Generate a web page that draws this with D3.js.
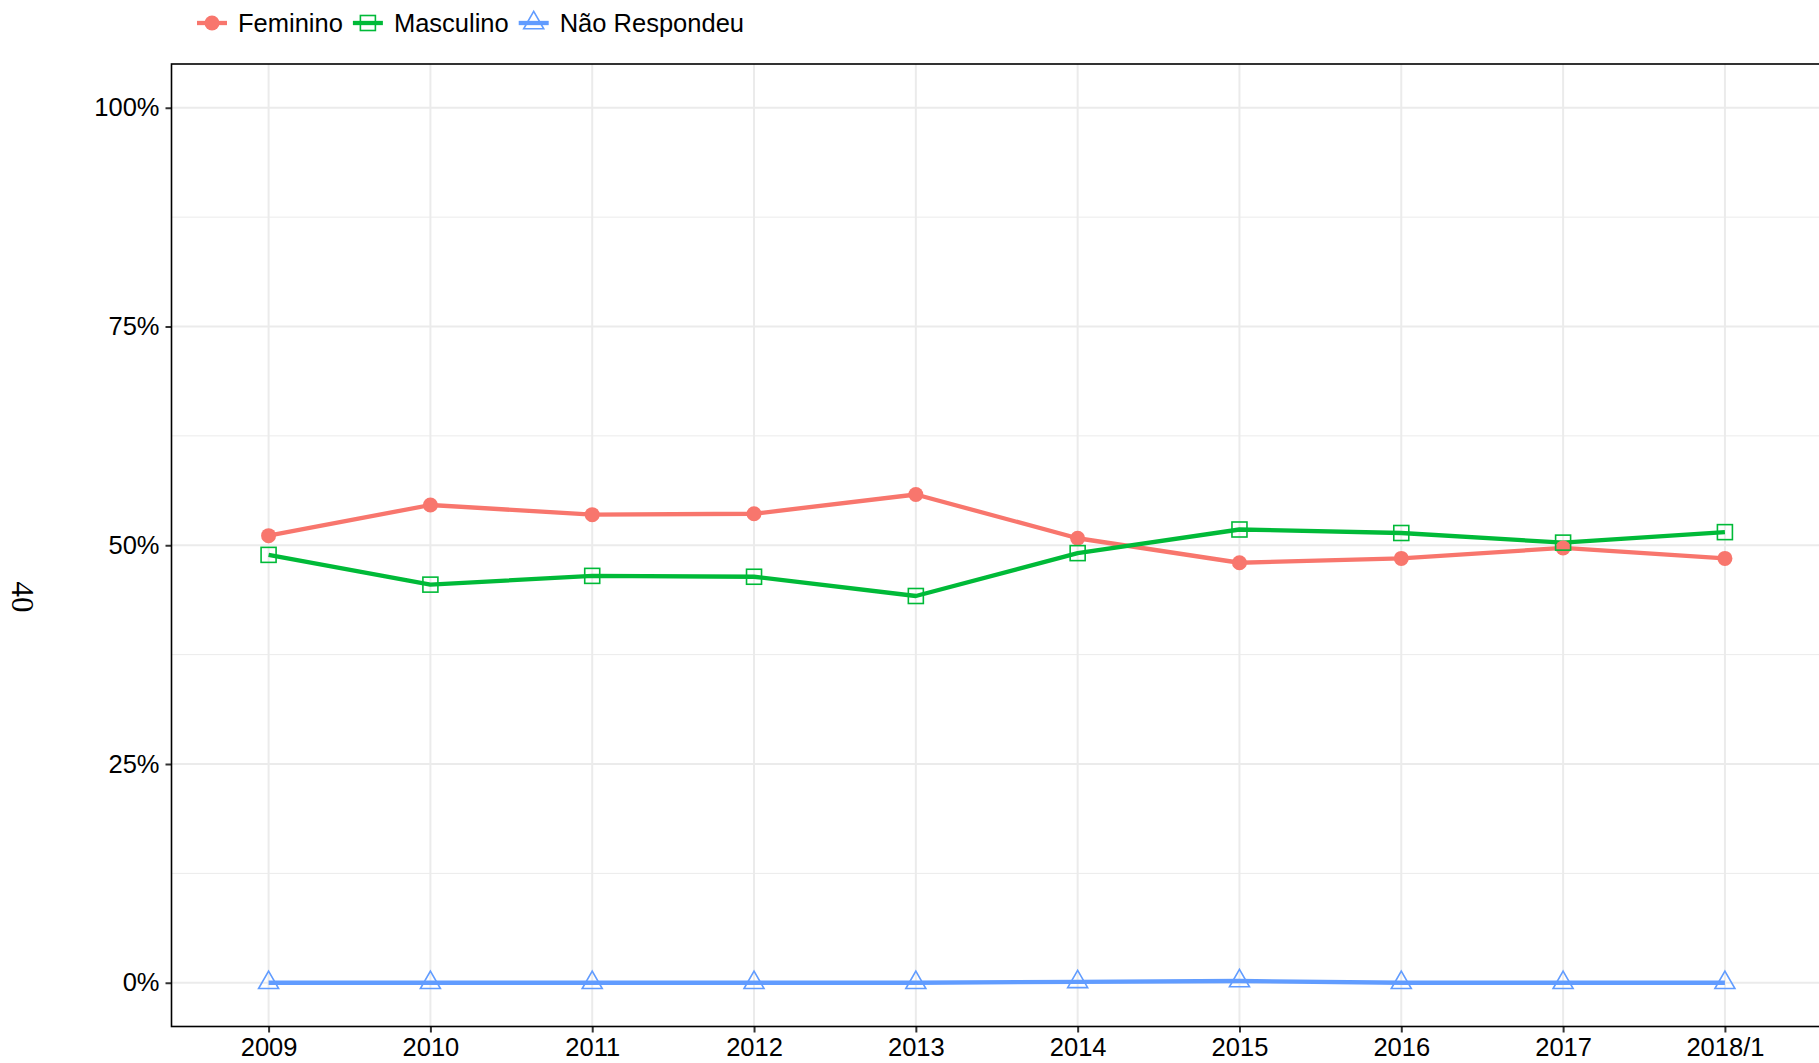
<!DOCTYPE html>
<html>
<head>
<meta charset="utf-8">
<script src="https://cdn.jsdelivr.net/npm/d3@7"></script>
<style>
  body { margin: 0; background: #fff; }
  svg { display: block; }
  .serif { font-family: "Liberation Serif", "DejaVu Serif", serif; }
</style>
</head>
<body>
<div id="canvas"></div>
<script>
// data (shares, 0..1)
const anos = ["2009", "2010", "2011", "2012", "2013", "2014", "2015", "2016", "2017", "2018/1"];
const feminino = [0.511, 0.546, 0.535, 0.536, 0.558, 0.508, 0.480, 0.485, 0.497, 0.485];
const masculino = [0.489, 0.455, 0.465, 0.464, 0.442, 0.491, 0.518, 0.514, 0.503, 0.515];
const naoRespondeu = [0.000, 0.000, 0.000, 0.000, 0.000, 0.001, 0.002, 0.000, 0.000, 0.000];
const seriesNames = ["Feminino", "Masculino", "Não Respondeu"];
const yTicks = [0, 0.25, 0.5, 0.75, 1];
const yMinor = [0.125, 0.375, 0.625, 0.875];

const colors = ["#F8766D", "#00BA38", "#619CFF"];
const series = [feminino, masculino, naoRespondeu].map((vals, i) => ({
    name: seriesNames[i], color: colors[i], shape: i,
    values: vals.map((v, j) => ({ ano: anos[j], v: v }))
}));

const W = 1819, H = 1063;
const panel = { left: 171.5, right: 1822, top: 64, bottom: 1026.5 };
const fontSans = "'Liberation Sans', Arial, sans-serif";

const svg = d3.select("#canvas").append("svg")
    .attr("width", W).attr("height", H);

const x = d3.scalePoint()
    .domain(anos)
    .range([panel.left, panel.right])
    .padding(0.6);

const y = d3.scaleLinear()
    .domain([-0.05, 1.05])
    .range([panel.bottom, panel.top]);

// grid
const grid = svg.append("g");
grid.selectAll(".minor").data(yMinor).join("line")
    .attr("x1", panel.left).attr("x2", panel.right)
    .attr("y1", d => y(d)).attr("y2", d => y(d))
    .attr("stroke", "#ebebeb").attr("stroke-width", 1);
grid.selectAll(".majorY").data(yTicks).join("line")
    .attr("x1", panel.left).attr("x2", panel.right)
    .attr("y1", d => y(d)).attr("y2", d => y(d))
    .attr("stroke", "#ebebeb").attr("stroke-width", 2);
grid.selectAll(".majorX").data(anos).join("line")
    .attr("x1", d => x(d)).attr("x2", d => x(d))
    .attr("y1", panel.top).attr("y2", panel.bottom)
    .attr("stroke", "#ebebeb").attr("stroke-width", 2);

// axes
const yAxis = svg.append("g")
    .attr("transform", `translate(${panel.left},0)`)
    .call(d3.axisLeft(y).tickValues(yTicks).tickFormat(d3.format(".0%")).tickSize(6).tickPadding(6));
const xAxis = svg.append("g")
    .attr("transform", `translate(0,${panel.bottom})`)
    .call(d3.axisBottom(x).tickSize(6).tickPadding(5));

[yAxis, xAxis].forEach(a => {
    a.select(".domain").remove();
    a.selectAll(".tick line").attr("stroke", "#333").attr("stroke-width", 2);
    a.selectAll(".tick text")
        .attr("fill", "#000")
        .style("font-family", fontSans)
        .style("font-size", "25.5px");
});

// lines, then points (ggplot order)
const line = d3.line().x(d => x(d.ano)).y(d => y(d.v));
svg.append("g").selectAll("path").data(series).join("path")
    .attr("d", d => line(d.values))
    .attr("fill", "none")
    .attr("stroke", d => d.color)
    .attr("stroke-width", 4.3)
    .attr("stroke-linejoin", "round");

function drawMarker(g, shape, color) {
    if (shape === 0) {
        g.append("circle").attr("r", 7.5).attr("fill", color);
    } else if (shape === 1) {
        g.append("rect").attr("x", -7.5).attr("y", -7.5).attr("width", 15).attr("height", 15)
            .attr("fill", "none").attr("stroke", color).attr("stroke-width", 1.6);
    } else {
        const s = 20, h = s * Math.sqrt(3) / 2;
        g.append("path")
            .attr("d", `M0,${-h * 2 / 3}L${s / 2},${h / 3}L${-s / 2},${h / 3}Z`)
            .attr("fill", "none").attr("stroke", color).attr("stroke-width", 1.6);
    }
}

series.forEach(s => {
    s.values.forEach(d => {
        const g = svg.append("g").attr("transform", `translate(${x(d.ano)},${y(d.v)})`);
        drawMarker(g, s.shape, s.color);
    });
});

// panel border
svg.append("rect")
    .attr("x", panel.left).attr("y", panel.top)
    .attr("width", panel.right - panel.left).attr("height", panel.bottom - panel.top)
    .attr("fill", "none").attr("stroke", "#000").attr("stroke-width", 1.6);

// legend
const legend = svg.append("g").attr("transform", "translate(197,23)");
let lx = 0;
series.forEach(s => {
    const g = legend.append("g").attr("transform", `translate(${lx},0)`);
    g.append("line").attr("x1", 0).attr("x2", 30).attr("y1", 0).attr("y2", 0)
        .attr("stroke", s.color).attr("stroke-width", 4.3);
    const m = g.append("g").attr("transform", "translate(15,0)");
    drawMarker(m, s.shape, s.color);
    const t = g.append("text").attr("x", 41).attr("y", 0)
        .attr("dy", "0.35em")
        .style("font-family", fontSans)
        .style("font-size", "25.5px")
        .text(s.name);
    lx += 41 + t.node().getComputedTextLength() + 10;
});

// stray rotated label on the left
svg.append("text")
    .attr("class", "serif")
    .attr("transform", "translate(23,597) rotate(90)")
    .attr("text-anchor", "middle")
    .attr("dy", "0.35em")
    .style("font-size", "31px")
    .text("40");
</script>
</body>
</html>
